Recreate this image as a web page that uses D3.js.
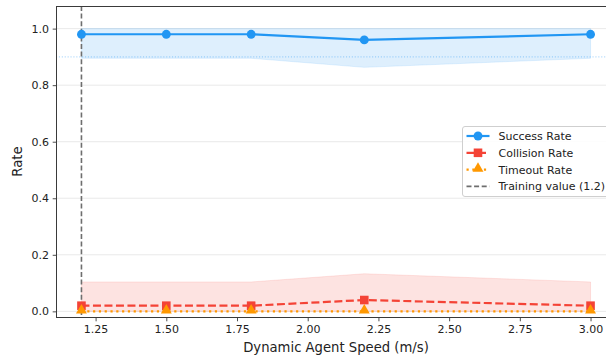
<!DOCTYPE html>
<html>
<head>
<meta charset="utf-8">
<script src="https://cdn.jsdelivr.net/npm/d3@7"></script>
<style>
  html, body { margin: 0; padding: 0; background: #fff; }
  svg { display: block; font-family: "DejaVu Sans", sans-serif; }
</style>
</head>
<body>
<svg id="chart" width="606" height="358"></svg>
<script>
// Evaluation results vs. dynamic agent speed
const speeds        = [1.2, 1.5, 1.8, 2.2, 3.0];
const successRate   = [0.98, 0.98, 0.98, 0.96, 0.98];
const successStd    = [0.085, 0.085, 0.085, 0.097, 0.085];
const collisionRate = [0.02, 0.02, 0.02, 0.04, 0.02];
const collisionStd  = [0.084, 0.084, 0.084, 0.093, 0.084];
const timeoutRate   = [0.0, 0.0, 0.0, 0.0, 0.0];
const timeoutStd    = [0.0, 0.0, 0.0, 0.0, 0.0];
const trainingSpeed = 1.2;
const targetSuccess = 0.9;
const xTickValues = [1.25, 1.5, 1.75, 2.0, 2.25, 2.5, 2.75, 3.0];
const yTickValues = [0.0, 0.2, 0.4, 0.6, 0.8, 1.0];
const seriesNames = ["Success Rate", "Collision Rate", "Timeout Rate", "Training value (1.2)"];

const COLORS = { success: "#2196F3", collision: "#F44336", timeout: "#FF9800" };

const svg = d3.select("#chart");
const W = 606, H = 358;
svg.append("rect").attr("width", W).attr("height", H).attr("fill", "#fff");

// plot area (right edge extends beyond the canvas)
const pLeft = 56, pRight = 616, pTop = 6, pBottom = 317;
const x = d3.scaleLinear().domain([1.11, 3.09]).range([pLeft, pRight]);
const y = d3.scaleLinear().domain([-0.02, 1.08]).range([pBottom, pTop]);

const plot = svg.append("g");

// horizontal grid
plot.append("g").selectAll("line").data(yTickValues).join("line")
  .attr("x1", pLeft).attr("x2", pRight)
  .attr("y1", d => y(d)).attr("y2", d => y(d))
  .attr("stroke", "#e6e6e6").attr("stroke-width", 0.9);

// std bands, clipped to [0, 1]
function band(mean, std) {
  return speeds.map((s, i) => ({
    x: s,
    lo: Math.max(0, mean[i] - std[i]),
    hi: Math.min(1, mean[i] + std[i])
  }));
}
const area = d3.area().x(d => x(d.x)).y0(d => y(d.lo)).y1(d => y(d.hi));
[[successRate, successStd, COLORS.success],
 [collisionRate, collisionStd, COLORS.collision],
 [timeoutRate, timeoutStd, COLORS.timeout]].forEach(([m, s, c]) => {
  const b = band(m, s);
  if (b.every(d => d.hi - d.lo === 0)) return;
  plot.append("path").attr("d", area(b))
    .attr("fill", c).attr("fill-opacity", 0.15)
    .attr("stroke", c).attr("stroke-opacity", 0.12).attr("stroke-width", 1);
});

// target success threshold
plot.append("line")
  .attr("x1", pLeft).attr("x2", pRight)
  .attr("y1", y(targetSuccess)).attr("y2", y(targetSuccess))
  .attr("stroke", COLORS.success).attr("stroke-opacity", 0.35)
  .attr("stroke-width", 1.1).attr("stroke-dasharray", "1.1,1.8");

// training speed marker
plot.append("line")
  .attr("x1", x(trainingSpeed)).attr("x2", x(trainingSpeed))
  .attr("y1", pTop).attr("y2", pBottom)
  .attr("stroke", "#6e6e6e").attr("stroke-width", 1.6)
  .attr("stroke-dasharray", "5,2.6");

// series lines + markers
const line = d3.line().x(d => x(d[0])).y(d => y(d[1]));
const series = [
  { vals: successRate,   color: COLORS.success,   dash: null,      marker: "circle" },
  { vals: collisionRate, color: COLORS.collision, dash: "8,3.5",   marker: "square" },
  { vals: timeoutRate,   color: COLORS.timeout,   dash: "2.2,3.6", marker: "triangle" }
];
const sym = {
  circle:   d3.symbol().type(d3.symbolCircle).size(62),
  square:   d3.symbol().type(d3.symbolSquare).size(74),
  triangle: d3.symbol().type(d3.symbolTriangle).size(52)
};
series.forEach(s => {
  const pts = speeds.map((v, i) => [v, s.vals[i]]);
  plot.append("path").attr("d", line(pts))
    .attr("fill", "none").attr("stroke", s.color).attr("stroke-width", 2.2)
    .attr("stroke-dasharray", s.dash);
  plot.append("g").selectAll("path").data(pts).join("path")
    .attr("d", sym[s.marker])
    .attr("transform", d => `translate(${x(d[0])},${y(d[1]) + (s.marker === "triangle" ? -1 : 0)})`)
    .attr("fill", s.color);
});

// spines
svg.append("rect")
  .attr("x", pLeft + 0.5).attr("y", pTop + 0.5)
  .attr("width", pRight - pLeft).attr("height", pBottom - pTop)
  .attr("fill", "none").attr("stroke", "#3a3a3a").attr("stroke-width", 1);

// axes
const xAxis = svg.append("g").attr("transform", `translate(0,${pBottom + 0.5})`)
  .call(d3.axisBottom(x).tickValues(xTickValues).tickFormat(d3.format(".2f"))
    .tickSize(3.8).tickPadding(3.6));
const yAxis = svg.append("g").attr("transform", `translate(${pLeft + 0.5},0)`)
  .call(d3.axisLeft(y).tickValues(yTickValues).tickFormat(d3.format(".1f"))
    .tickSize(3.8).tickPadding(3.6));
[xAxis, yAxis].forEach(a => {
  a.select(".domain").remove();
  a.selectAll(".tick line").attr("stroke", "#3a3a3a").attr("stroke-width", 0.9);
  a.selectAll(".tick text").attr("fill", "#222").style("font-size", "11px")
    .style("font-family", "'DejaVu Sans', sans-serif");
});

// axis titles
svg.append("text").attr("x", (pLeft + pRight) / 2).attr("y", 352)
  .attr("text-anchor", "middle").attr("fill", "#222")
  .style("font-size", "13.2px").text("Dynamic Agent Speed (m/s)");
svg.append("text").attr("transform", `translate(22,${(pTop + pBottom) / 2}) rotate(-90)`)
  .attr("text-anchor", "middle").attr("fill", "#222")
  .style("font-size", "13.2px").text("Rate");

// legend
const lg = svg.append("g");
lg.append("rect").attr("x", 462.5).attr("y", 126.5).attr("width", 147).attr("height", 70)
  .attr("rx", 2.5).attr("fill", "#fff").attr("fill-opacity", 0.85)
  .attr("stroke", "#cfcfcf").attr("stroke-width", 1);
const legendItems = [
  { name: seriesNames[0], color: COLORS.success,   dash: null,      marker: "circle",   w: 2.2 },
  { name: seriesNames[1], color: COLORS.collision, dash: "8,3.5",   marker: "square",   w: 2.2 },
  { name: seriesNames[2], color: COLORS.timeout,   dash: "2.2,3.6", marker: "triangle", w: 2.2 },
  { name: seriesNames[3], color: "#6e6e6e",        dash: "5,2.6",   marker: null,       w: 1.6 }
];
legendItems.forEach((it, i) => {
  const cy = 136 + i * 16.8;
  lg.append("line").attr("x1", 466.5).attr("x2", 489.5).attr("y1", cy).attr("y2", cy)
    .attr("stroke", it.color).attr("stroke-width", it.w).attr("stroke-dasharray", it.dash);
  if (it.marker) {
    lg.append("path").attr("d", sym[it.marker])
      .attr("transform", `translate(478,${cy + (it.marker === "triangle" ? -1 : 0)})`)
      .attr("fill", it.color);
  }
  lg.append("text").attr("x", 498.5).attr("y", cy).attr("dy", "0.36em")
    .attr("fill", "#222").style("font-size", "11px").text(it.name);
});
</script>
</body>
</html>
